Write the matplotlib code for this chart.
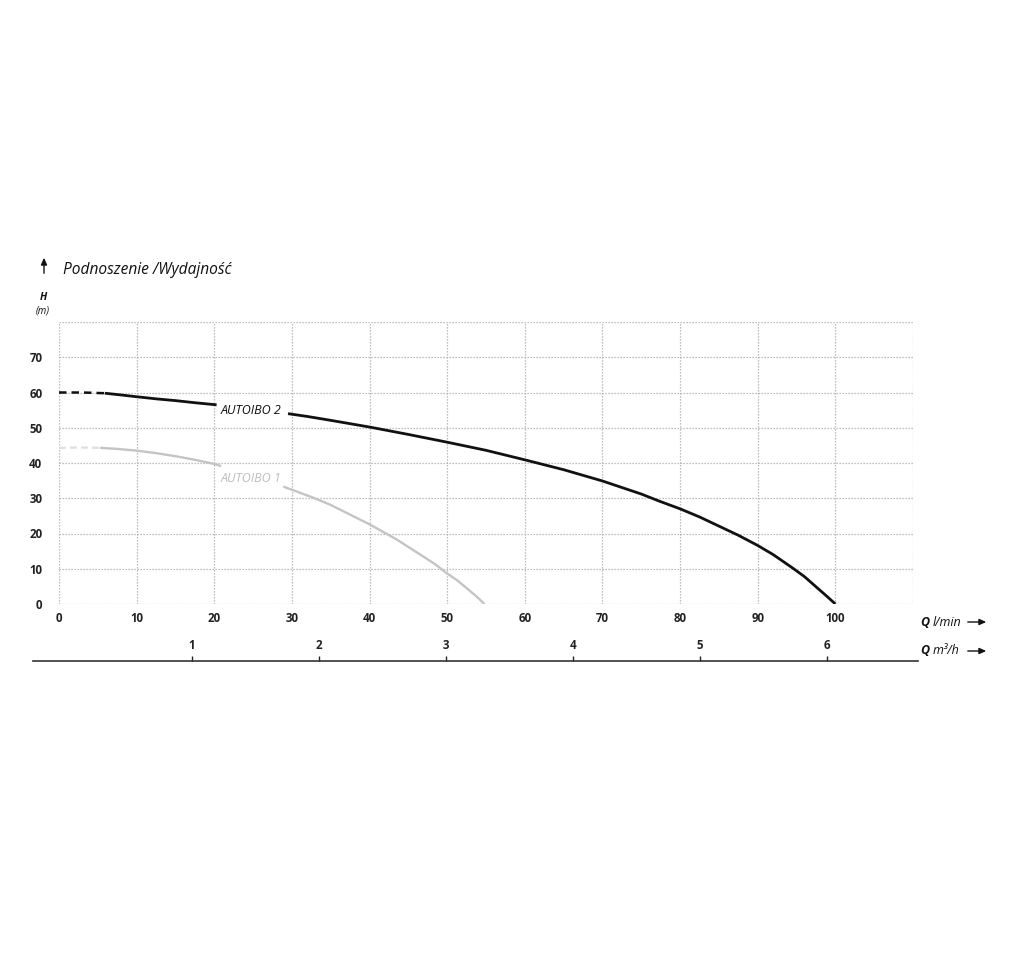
import matplotlib
matplotlib.use("Agg")
import matplotlib.pyplot as plt

# ---- data ----
q_ticks = [0, 10, 20, 30, 40, 50, 60, 70, 80, 90, 100, 110]
q_ticklabels = ["0", "10", "20", "30", "40", "50", "60", "70", "80", "90", "100", ""]
h_ticks = [0, 10, 20, 30, 40, 50, 60, 70, 80]
h_ticklabels = ["0", "10", "20", "30", "40", "50", "60", "70", ""]
m3h_ticks = [1, 2, 3, 4, 5, 6]
m3h_ticklabels = ["1", "2", "3", "4", "5", "6"]

# AUTOIBO 2 (black)
q2_dash = [0, 3, 5.9]
h2_dash = [60.0, 60.0, 59.8]
q2_a = [5.9, 8, 10, 12.5, 15, 17.5, 20.3]
h2_a = [59.8, 59.3, 58.8, 58.2, 57.7, 57.1, 56.5]
q2_b = [29.5, 32, 35, 40, 45, 50, 55, 60, 65, 70, 75, 77.3, 80, 82.5, 85,
        87.5, 90, 92, 94.5, 96, 97.5, 99, 100]
h2_b = [54.0, 53.2, 52.1, 50.2, 48.1, 45.9, 43.6, 40.9, 38.1, 34.9, 31.2, 29.2,
        27.0, 24.7, 22.1, 19.5, 16.6, 14.0, 10.2, 7.8, 4.9, 2.0, 0.0]

# AUTOIBO 1 (grey)
q1_dash = [0, 2.5, 5.3]
h1_dash = [44.3, 44.4, 44.3]
q1_a = [5.3, 7.5, 10, 12.5, 15.1, 17.5, 20.1, 20.9]
h1_a = [44.3, 44.0, 43.5, 42.8, 41.9, 40.9, 39.7, 39.1]
q1_b = [28.9, 30.5, 32.7, 35, 37, 40, 43.5, 46.9, 48.5, 49.9, 51.3, 52.5, 53.7, 54.8]
h1_b = [33.3, 32.0, 30.2, 28.1, 25.9, 22.6, 18.3, 13.5, 11.2, 8.8, 6.7, 4.5, 2.3, 0.0]

labels = ["AUTOIBO 2", "AUTOIBO 1"]

FONT = ["Open Sans", "DejaVu Sans"]
W, H = 1014, 960
fig = plt.figure(figsize=(W / 100, H / 100), dpi=100)

def fx(px):
    return px / W

def fy(py):
    return 1 - py / H

ax = fig.add_axes([fx(59), fy(604), fx(913) - fx(59), fy(322) - fy(604)])
ax.set_xlim(0, 110)
ax.set_ylim(0, 80)
for s in ax.spines.values():
    s.set_visible(False)
ax.set_xticks(q_ticks)
ax.set_xticklabels(q_ticklabels, fontfamily=FONT, fontweight="bold", fontsize=8.3)
ax.set_yticks(h_ticks)
ax.set_yticklabels(h_ticklabels, fontfamily=FONT, fontweight="bold", fontsize=8.3)
ax.tick_params(axis="both", length=0, colors="#222222")
ax.tick_params(axis="x", pad=6)
ax.tick_params(axis="y", pad=12)
ax.grid(True, color="#ababab", linestyle=(0, (1, 1.4)), linewidth=0.9)
ax.set_axisbelow(True)

black = "#111111"
grey = "#c4c4c4"
ax.plot(q2_dash, h2_dash, color=black, lw=1.8, linestyle=(0, (3, 2)))
ax.plot(q2_a, h2_a, color=black, lw=2.0, solid_capstyle="butt")
ax.plot(q2_b, h2_b, color=black, lw=2.0, solid_capstyle="butt",
        solid_joinstyle="round")
ax.plot(q1_dash, h1_dash, color="#dedede", lw=1.6, linestyle=(0, (3, 2)))
ax.plot(q1_a, h1_a, color=grey, lw=1.7, solid_capstyle="butt")
ax.plot(q1_b, h1_b, color=grey, lw=1.7, solid_capstyle="butt",
        solid_joinstyle="round")

ax.text(20.8, 55.0, labels[0], fontfamily=FONT, fontstyle="italic", fontsize=9,
        color=black, ha="left", va="center")
ax.text(20.8, 35.6, labels[1], fontfamily=FONT, fontstyle="italic", fontsize=9,
        color="#bdbdbd", ha="left", va="center")

# secondary m3/h axis line
ax2 = fig.add_axes([fx(33), fy(661), fx(918) - fx(33), 0.0001])
ax2.set_xlim(-0.252, 6.717)
ax2.set_ylim(0, 1)
for k in ["left", "right", "bottom"]:
    ax2.spines[k].set_visible(False)
ax2.spines["top"].set_color("#333333")
ax2.spines["top"].set_linewidth(1.2)
ax2.xaxis.tick_top()
ax2.set_yticks([])
ax2.set_xticks(m3h_ticks)
ax2.set_xticklabels(m3h_ticklabels, fontfamily=FONT, fontweight="bold", fontsize=8.3)
ax2.tick_params(axis="x", direction="out", length=3.5, width=1.0, pad=3,
                colors="#222222")
ax2.patch.set_visible(False)

# titles / annotations
fig.text(fx(63), fy(270), "Podnoszenie /Wydajność", fontfamily=FONT,
         fontstyle="italic", fontsize=11.2, color="#111111", va="center", ha="left")
fig.add_artist(matplotlib.patches.FancyArrowPatch(
    (fx(44), fy(276)), (fx(44), fy(255)), transform=fig.transFigure,
    arrowstyle="-|>,head_length=4,head_width=1.8", color="#111111", lw=1.0))
fig.text(fx(43), fy(297), "H", fontfamily=FONT, fontstyle="italic",
         fontweight="bold", fontsize=7.5, color="#111111", ha="center", va="center")
fig.text(fx(43), fy(311), "(m)", fontfamily=FONT, fontstyle="italic",
         fontsize=7, color="#111111", ha="center", va="center")

for ypix, unit in [(622, "l/min"), (651, "m³/h")]:
    fig.text(fx(920), fy(ypix), "Q", fontfamily=FONT, fontstyle="italic",
             fontweight="bold", fontsize=9, color="#111111", ha="left", va="center")
    fig.text(fx(933), fy(ypix), unit, fontfamily=FONT, fontstyle="italic",
             fontsize=9, color="#111111", ha="left", va="center")
    fig.add_artist(matplotlib.patches.FancyArrowPatch(
        (fx(965), fy(ypix)), (fx(989), fy(ypix)), transform=fig.transFigure,
        arrowstyle="-|>,head_length=4,head_width=1.8", color="#111111", lw=1.0))

fig.savefig("out.png", dpi=100, facecolor="white")
